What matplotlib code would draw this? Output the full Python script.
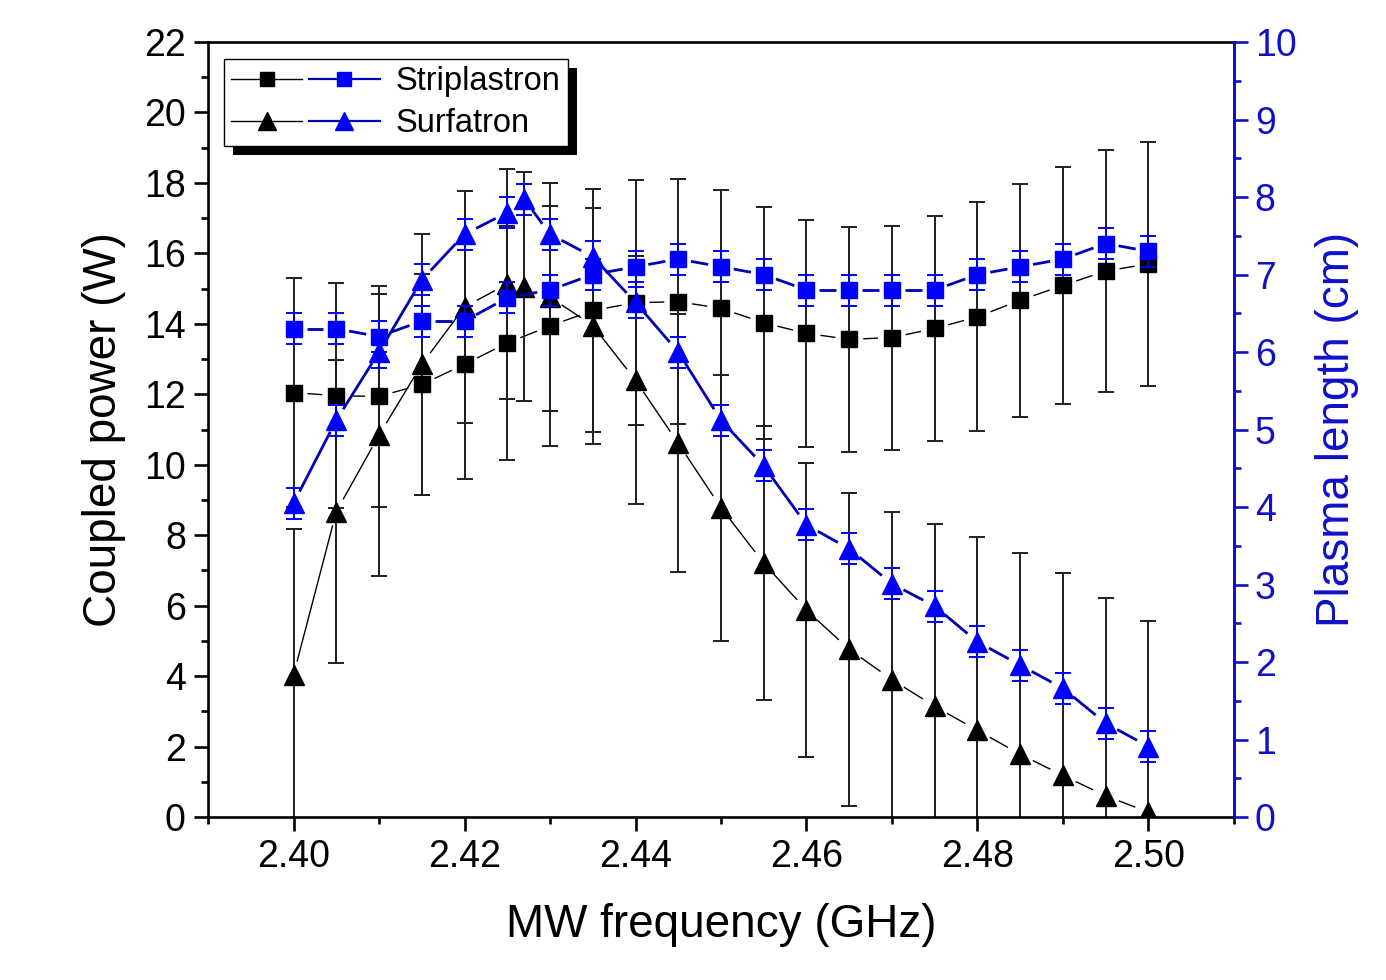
import numpy as np
import matplotlib
matplotlib.use("Agg")
import matplotlib.pyplot as plt
from matplotlib.ticker import MultipleLocator, FormatStrFormatter
from matplotlib.collections import LineCollection
from matplotlib.lines import Line2D
from matplotlib.legend_handler import HandlerTuple
from matplotlib.patches import Rectangle
from matplotlib.transforms import IdentityTransform

plt.rcParams['font.family'] = ['Liberation Sans', 'DejaVu Sans']

# ---------------- data ----------------
freq = [2.400, 2.405, 2.410, 2.415, 2.420, 2.425, 2.430, 2.435, 2.440, 2.445, 2.450,
        2.455, 2.460, 2.465, 2.470, 2.475, 2.480, 2.485, 2.490, 2.495, 2.500]
strip_power = [12.05, 11.96, 11.94, 12.28, 12.85, 13.46, 13.94, 14.38, 14.60, 14.63, 14.44,
               14.03, 13.73, 13.56, 13.61, 13.87, 14.20, 14.67, 15.09, 15.50, 15.70]
strip_power_err = [3.26, 3.19, 3.14, 3.13, 3.26, 3.33, 3.40, 3.44, 3.47, 3.47, 3.37,
                   3.29, 3.23, 3.19, 3.18, 3.20, 3.25, 3.31, 3.37, 3.43, 3.45]
strip_length = [6.3, 6.3, 6.2, 6.4, 6.4, 6.7, 6.8, 7.0, 7.1, 7.2, 7.1,
                7.0, 6.8, 6.8, 6.8, 6.8, 7.0, 7.1, 7.2, 7.4, 7.3]
strip_length_err = [0.2, 0.2, 0.2, 0.2, 0.2, 0.2, 0.2, 0.2, 0.2, 0.2, 0.2,
                    0.2, 0.2, 0.2, 0.2, 0.2, 0.2, 0.2, 0.2, 0.2, 0.2]

surf_freq = [2.400, 2.405, 2.410, 2.415, 2.420, 2.425, 2.427, 2.430, 2.435, 2.440, 2.445,
             2.450, 2.455, 2.460, 2.465, 2.470, 2.475, 2.480, 2.485, 2.490, 2.495, 2.500]
surf_power = [4.03, 8.67, 10.84, 12.85, 14.48, 15.13, 15.05, 14.76, 13.95, 12.40, 10.61,
              8.78, 7.21, 5.87, 4.76, 3.90, 3.14, 2.46, 1.78, 1.18, 0.60, 0.14]
surf_power_err = [4.15, 4.30, 4.00, 3.70, 3.30, 3.27, 3.25, 3.24, 3.35, 3.52, 3.66,
                  3.77, 3.89, 4.17, 4.45, 4.76, 5.17, 5.49, 5.71, 5.75, 5.63, 5.42]
surf_length = [4.05, 5.12, 6.00, 6.93, 7.52, 7.80, 7.97, 7.52, 7.23, 6.64, 6.00,
               5.12, 4.53, 3.77, 3.46, 3.01, 2.72, 2.26, 1.96, 1.66, 1.21, 0.91]
surf_length_err = [0.2, 0.2, 0.2, 0.2, 0.2, 0.2, 0.2, 0.2, 0.2, 0.2, 0.2,
                   0.2, 0.2, 0.2, 0.2, 0.2, 0.2, 0.2, 0.2, 0.2, 0.2, 0.2]

series_labels = ['Striplastron', 'Surfatron']
xlabel = 'MW frequency (GHz)'
ylabel_left = 'Coupled power (W)'
ylabel_right = 'Plasma length (cm)'

# ---------------- style ----------------
BLACK = '#000000'
EBAR = '#1e1e1e'
BLUE_M = '#0000ff'
BLUE_L = '#0000b4'
BLUE_AX = '#1010c8'
TICK_FS = 27
LABEL_FS = 33
LEG_FS = 23.5

fig = plt.figure(figsize=(13.86, 9.8), dpi=100)
ax = fig.add_axes([0.1501, 0.1663, 0.7402, 0.7908])
ax2 = ax.twinx()

ax.set_xlim(2.39, 2.51)
ax.set_ylim(0, 22)
ax2.set_ylim(0, 10)


def gapped_line(a, x, y, gap_px, **kw):
    """Connect points with segments that stop short of the markers (Origin style)."""
    pts = a.transData.transform(np.column_stack([x, y]))
    inv = a.transData.inverted()
    segs = []
    for p0, p1 in zip(pts[:-1], pts[1:]):
        d = p1 - p0
        L = np.hypot(d[0], d[1])
        if L <= 2 * gap_px:
            continue
        u = d / L
        segs.append(inv.transform(np.array([p0 + u * gap_px, p1 - u * gap_px])))
    a.add_collection(LineCollection(segs, **kw))


# black series: coupled power (left axis)
gapped_line(ax, freq, strip_power, 14, colors=BLACK, linewidths=1.0, zorder=1)
gapped_line(ax, surf_freq, surf_power, 14, colors=BLACK, linewidths=1.0, zorder=1)
ax.errorbar(freq, strip_power, yerr=strip_power_err, fmt='none', ecolor=EBAR,
            elinewidth=1.4, capsize=5.5, capthick=1.4, zorder=2)
ax.errorbar(surf_freq, surf_power, yerr=surf_power_err, fmt='none', ecolor=EBAR,
            elinewidth=1.4, capsize=5.5, capthick=1.4, zorder=2)
ax.plot(freq, strip_power, linestyle='none', marker='s', ms=11.5, color=BLACK, zorder=3)
ax.plot(surf_freq, surf_power, linestyle='none', marker='^', ms=14.5, color=BLACK, zorder=3)

# blue series: plasma length (right axis)
gapped_line(ax2, freq, strip_length, 13, colors=BLUE_L, linewidths=2.0, zorder=1)
gapped_line(ax2, surf_freq, surf_length, 13, colors=BLUE_L, linewidths=2.0, zorder=1)
ax2.errorbar(freq, strip_length, yerr=strip_length_err, fmt='none', ecolor=BLUE_M,
             elinewidth=1.4, capsize=5.5, capthick=1.4, zorder=2)
ax2.errorbar(surf_freq, surf_length, yerr=surf_length_err, fmt='none', ecolor=BLUE_M,
             elinewidth=1.4, capsize=5.5, capthick=1.4, zorder=2)
ax2.plot(freq, strip_length, linestyle='none', marker='s', ms=11.5, color=BLUE_M, zorder=3)
ax2.plot(surf_freq, surf_length, linestyle='none', marker='^', ms=14.5, color=BLUE_M, zorder=3)

# ---------------- axes styling ----------------
ax.xaxis.set_major_locator(MultipleLocator(0.02))
ax.xaxis.set_minor_locator(MultipleLocator(0.01))
ax.xaxis.set_major_formatter(FormatStrFormatter('%.2f'))
ax.yaxis.set_major_locator(MultipleLocator(2))
ax.yaxis.set_minor_locator(MultipleLocator(1))
ax2.yaxis.set_major_locator(MultipleLocator(1))
ax2.yaxis.set_minor_locator(MultipleLocator(0.5))

for a in (ax, ax2):
    for s in a.spines.values():
        s.set_linewidth(1.9)
ax2.spines['right'].set_color(BLUE_AX)
ax2.spines['left'].set_visible(False)
ax2.spines['top'].set_visible(False)
ax2.spines['bottom'].set_visible(False)

ax.tick_params(axis='both', which='major', direction='out', length=10, width=1.9,
               labelsize=TICK_FS, pad=6)
ax.tick_params(axis='both', which='minor', direction='out', length=5, width=1.9)
ax.tick_params(axis='y', which='both', right=False)
ax.tick_params(axis='x', which='both', top=False)
ax2.tick_params(axis='y', which='major', direction='out', length=10, width=1.9,
                labelsize=TICK_FS, colors=BLUE_AX, pad=5)
ax2.tick_params(axis='y', which='minor', direction='out', length=5, width=1.9,
                colors=BLUE_AX)

ax.set_xlabel(xlabel, fontsize=LABEL_FS, labelpad=20)
ax.set_ylabel(ylabel_left, fontsize=LABEL_FS, labelpad=13)
ax2.set_ylabel(ylabel_right, fontsize=LABEL_FS, color=BLUE_AX, labelpad=13)

# ---------------- legend ----------------
h_strip = (Line2D([], [], color=BLACK, lw=1.0, marker='s', ms=10.5, mfc=BLACK, mec=BLACK),
           Line2D([], [], color=BLUE_L, lw=1.6, marker='s', ms=10.5, mfc=BLUE_M, mec=BLUE_M))
h_surf = (Line2D([], [], color=BLACK, lw=1.0, marker='^', ms=13, mfc=BLACK, mec=BLACK),
          Line2D([], [], color=BLUE_L, lw=1.6, marker='^', ms=13, mfc=BLUE_M, mec=BLUE_M))
leg = ax2.legend([h_strip, h_surf], series_labels,
                 handler_map={tuple: HandlerTuple(ndivide=None, pad=0.2)},
                 loc='upper left', bbox_to_anchor=(224 / 1386, 1 - 59 / 980),
                 bbox_transform=fig.transFigure, borderaxespad=0,
                 fontsize=LEG_FS, handlelength=4.55, handletextpad=0.5,
                 labelspacing=0.33, borderpad=0.22, fancybox=False, framealpha=1,
                 edgecolor='black')
leg.get_frame().set_linewidth(1.0)
leg.set_zorder(5)

fig.canvas.draw()
bb = leg.get_window_extent()
shadow = Rectangle((bb.x0 + 9, bb.y0 - 9), bb.width, bb.height,
                   transform=IdentityTransform(), facecolor='black',
                   edgecolor='none', zorder=4.5)
ax2.add_artist(shadow)
shadow.set_clip_on(False)

fig.savefig('out.png', dpi=100)
